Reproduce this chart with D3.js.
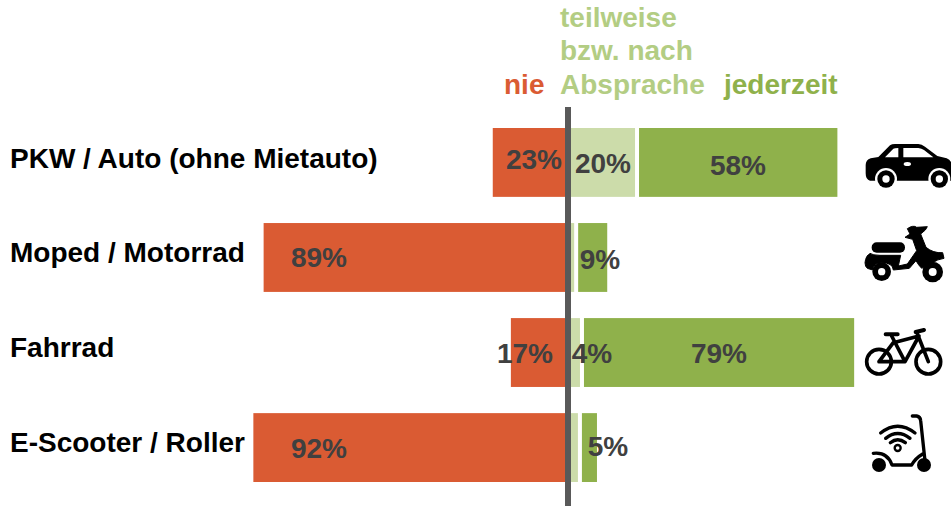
<!DOCTYPE html>
<html><head><meta charset="utf-8">
<script src="https://cdnjs.cloudflare.com/ajax/libs/d3/7.8.5/d3.min.js"></script>
<style>html,body{margin:0;background:#fff}svg{display:block}text{font-family:"Liberation Sans",Arial,sans-serif;font-weight:700}</style>
</head><body><svg id="c" width="951" height="506"></svg>
<script>
const categories=["PKW / Auto (ohne Mietauto)","Moped / Motorrad","Fahrrad","E-Scooter / Roller"];
const nie=[22,89,16.7,92];
const teilweise=[19.6,1.8,3.5,2.9];
const jederzeit=[58,8.5,79,4.4];
const nieLabels=["23%","89%","17%","92%"];
const teilweiseLabels=["20%","","4%",""];
const jederzeitLabels=["58%","9%","79%","5%"];
const iconNames=["car","moped","bike","escooter"];

const W=951,H=506,svg=d3.select("#c");
const x=d3.scaleLinear().domain([0,100]).range([568,910]);
const y=d3.scaleBand().domain(categories).range([128,482]).paddingInner(0.2754).paddingOuter(0);
const C={nie:"#da5b33",mid:"#ccdcaa",jed:"#8fb14b",axis:"#595959",text:"#404040"};
const gap=4,FS=28;

categories.forEach((c,i)=>{
  const by=y(c),bh=y.bandwidth();
  svg.append("rect").attr("x",x(-nie[i])).attr("y",by).attr("width",x(0)-x(-nie[i])).attr("height",bh).attr("fill",C.nie);
  svg.append("rect").attr("x",x(0)).attr("y",by).attr("width",x(teilweise[i])-x(0)).attr("height",bh).attr("fill",C.mid);
  const js=x(teilweise[i])+gap;
  svg.append("rect").attr("x",js).attr("y",by).attr("width",x(jederzeit[i])-x(0)).attr("height",bh).attr("fill",C.jed);
});
svg.append("line").attr("x1",x(0)).attr("x2",x(0)).attr("y1",107).attr("y2",H).attr("stroke",C.axis).attr("stroke-width",6);

// Category labels
const catBase=[168,262,357,452];
categories.forEach((c,i)=>svg.append("text").attr("x",10).attr("y",catBase[i]).attr("font-size",FS).attr("fill","#000").text(c));

// Value labels (hand placed in the source chart; offsets from the axis)
const dLabels=[
 [nieLabels,[-34,-249,-43,-249],[169,267,363,458]],
 [teilweiseLabels,[35,0,24,0],[173,0,363,0]],
 [jederzeitLabels,[170,32,151,40],[175,269,363,456]]
];
dLabels.forEach(([labs,dx,ys])=>labs.forEach((t,i)=>{
  if(t) svg.append("text").attr("x",x(0)+dx[i]).attr("y",ys[i]).attr("text-anchor","middle").attr("font-size",FS).attr("fill",C.text).text(t);
}));

// Header
const hdr=[["nie",504,94,"#da5b33"],["teilweise",560,27,"#b3cd83"],["bzw. nach",560,60,"#b3cd83"],["Absprache",560,94,"#b3cd83"],["jederzeit",724,94,"#8fb14b"]];
hdr.forEach(([t,hx,hy,f])=>svg.append("text").attr("x",hx).attr("y",hy).attr("font-size",FS).attr("fill",f).text(t));

// Icons (drawn in zoom coordinates, 3x)
function icon(ox,oy){return svg.append("g").attr("transform",`translate(${ox},${oy}) scale(${1/3})`);}
const draw={
 car(){const g=icon(850,130);
  g.append("path").attr("fill","#000").attr("d","M47 105Q47 90 62 85L85 81L120 46Q125 42 135 42L205 42Q215 42 225 50L262 78L290 85Q303 90 306 105L306 152L60 152Q47 150 47 130Z");
  g.append("path").attr("fill","#fff").attr("d","M105 82L130 56Q133 54 145 54L145 82ZM160 54L205 54Q215 55 222 60L250 82L160 82Z");
  g.append("ellipse").attr("cx",172).attr("cy",102).attr("rx",11).attr("ry",6).attr("fill","#fff");
  [108,268].forEach(cx=>{
   g.append("circle").attr("cx",cx).attr("cy",147).attr("r",33).attr("fill","#fff");
   g.append("circle").attr("cx",cx).attr("cy",147).attr("r",26).attr("fill","#000");
   g.append("circle").attr("cx",cx).attr("cy",147).attr("r",11).attr("fill","#fff");
  });},
 moped(){const g=icon(850,130);
  g.append("rect").attr("x",65).attr("y",337).attr("width",100).attr("height",31).attr("rx",15).attr("fill","#000");
  g.append("path").attr("fill","#000").attr("stroke","#000").attr("stroke-width",3).attr("stroke-linejoin","round").attr("d","M45 398Q47 378 60 370Q68 376 90 376L152 376L145 408L172 402L200 362L188 328L165 322L180 312L172 296Q190 284 200 292L232 290L226 300L212 312L228 352Q250 370 278 368L282 385Q262 388 248 398L215 415Q205 405 198 392L178 415L130 420Q128 398 95 398Q70 398 68 420L52 415Q45 410 45 398Z");
  g.append("circle").attr("cx",95).attr("cy",425).attr("r",28).attr("fill","#000");
  g.append("circle").attr("cx",95).attr("cy",425).attr("r",11).attr("fill","#fff");
  g.append("circle").attr("cx",248).attr("cy",426).attr("r",31).attr("fill","#000");
  g.append("circle").attr("cx",248).attr("cy",426).attr("r",12).attr("fill","#fff");},
 bike(){const g=icon(850,310).append("g").attr("fill","none").attr("stroke","#000").attr("stroke-width",11).attr("stroke-linecap","round").attr("stroke-linejoin","round");
  g.append("circle").attr("cx",87).attr("cy",155).attr("r",37);
  g.append("circle").attr("cx",235).attr("cy",155).attr("r",37);
  g.append("path").attr("d","M125 78L165 155L87 155L130 98L207 78L165 155M200 66L235 155");
  g.append("path").attr("stroke-width",12).attr("d","M107 73L143 73M197 66L222 60");},
 escooter(){const base=icon(850,310);
  const g=base.append("g").attr("fill","none").attr("stroke","#000").attr("stroke-linecap","round").attr("stroke-linejoin","round");
  g.append("path").attr("stroke-width",10).attr("d","M187 318L200 318Q211 320 212 332L226 462");
  g.append("path").attr("stroke-width",10).attr("d","M70 430Q112 425 126 465L185 465Q196 445 218 432");
  g.append("path").attr("stroke-width",10).attr("d","M92 369Q143 328 195 369M107 385Q143 356 180 385M121 398Q143 380 166 398");
  g.append("circle").attr("cx",143).attr("cy",414).attr("r",9).attr("stroke-width",7);
  [87,222].forEach(cx=>base.append("circle").attr("cx",cx).attr("cy",465).attr("r",21).attr("fill","#000"));}
};
iconNames.forEach(n=>draw[n]());
</script></body></html>
